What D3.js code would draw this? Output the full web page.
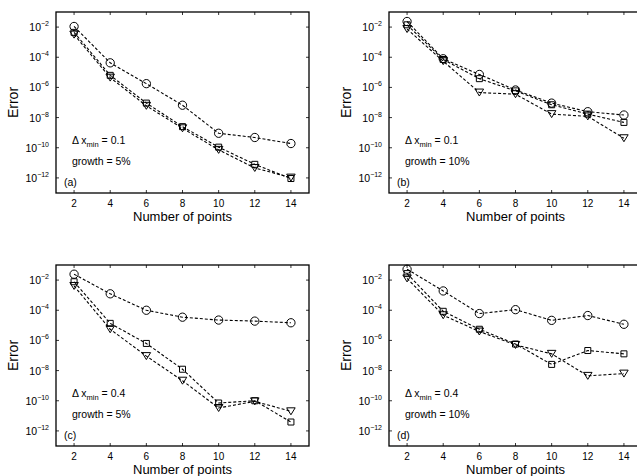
<!DOCTYPE html>
<html>
<head>
<meta charset="utf-8">
<script src="https://cdn.jsdelivr.net/npm/d3@7"></script>
<style>
  html, body { margin: 0; padding: 0; background: #fff; }
  svg { display: block; font-family: "Liberation Sans", Arial, Helvetica, sans-serif; }
</style>
</head>
<body>
<svg id="chart" width="637" height="476"></svg>
<script>
// ---- data (log10 of error) ----
const xPoints = [2, 4, 6, 8, 10, 12, 14];
const xTicks = [2, 4, 6, 8, 10, 12, 14];
const yTickExps = [-2, -4, -6, -8, -10, -12];
const panelLetters = ["(a)", "(b)", "(c)", "(d)"];
const dxMin = ["0.1", "0.1", "0.4", "0.4"];
const growth = ["5%", "10%", "5%", "10%"];

// panel (a)
const aCircle   = [-1.96, -4.37, -5.75, -7.18, -9.04, -9.32, -9.72];
const aSquare   = [-2.35, -5.20, -7.04, -8.60, -9.96, -11.10, -12.04];
const aTriangle = [-2.50, -5.35, -7.22, -8.71, -10.14, -11.34, -11.98];
// panel (b)
const bCircle   = [-1.63, -4.10, -5.14, -6.17, -7.04, -7.61, -7.83];
const bSquare   = [-1.85, -4.15, -5.42, -6.23, -7.15, -7.77, -8.32];
const bTriangle = [-2.13, -4.26, -6.34, -6.45, -7.77, -7.92, -9.37];
// panel (c)
const cCircle   = [-1.61, -2.91, -4.00, -4.46, -4.65, -4.72, -4.83];
const cSquare   = [-2.11, -4.87, -6.20, -7.91, -10.15, -10.00, -11.41];
const cTriangle = [-2.39, -5.26, -7.04, -8.67, -10.48, -10.04, -10.70];
// panel (d)
const dCircle   = [-1.28, -2.72, -4.22, -3.96, -4.67, -4.35, -4.93];
const dSquare   = [-1.57, -4.07, -5.26, -6.24, -7.59, -6.67, -6.89];
const dTriangle = [-1.89, -4.33, -5.41, -6.30, -6.89, -8.35, -8.20];

const panelSeries = [
  [aCircle, aSquare, aTriangle],
  [bCircle, bSquare, bTriangle],
  [cCircle, cSquare, cTriangle],
  [dCircle, dSquare, dTriangle]
];
const markerKinds = ["circle", "square", "triangle"];

// ---- layout ----
const svg = d3.select("#chart");
const W = 253, H = 181;
const origins = [[56, 12], [389, 12], [56, 265], [389, 265]];

const x = d3.scaleLinear().domain([1, 15]).range([0, W]);
const y = d3.scaleLog().domain([1e-13, 1e-1]).range([H, 0]);

const symCircle = d3.symbol().type(d3.symbolCircle).size(54);
const symSquare = d3.symbol().type(d3.symbolSquare).size(36);

function triPath(s) {
  const h = s * 0.82;
  return `M${-s / 2},${-h / 2}L${s / 2},${-h / 2}L0,${h / 2}Z`;
}

panelSeries.forEach((series, pi) => {
  const [ox, oy] = origins[pi];
  const g = svg.append("g").attr("transform", `translate(${ox},${oy})`);

  const clipId = "clip" + pi;
  g.append("clipPath").attr("id", clipId)
    .append("rect").attr("x", -6).attr("y", -6).attr("width", W + 12).attr("height", H + 12);

  // box
  g.append("rect").attr("x", 0).attr("y", 0).attr("width", W).attr("height", H)
    .attr("fill", "none").attr("stroke", "#000").attr("stroke-width", 1.3);

  // x ticks inward (bottom and top)
  const xt = g.append("g");
  xTicks.forEach(t => {
    xt.append("line").attr("x1", x(t)).attr("x2", x(t)).attr("y1", H).attr("y2", H - 3)
      .attr("stroke", "#000").attr("stroke-width", 0.8);
    xt.append("line").attr("x1", x(t)).attr("x2", x(t)).attr("y1", 0).attr("y2", 3)
      .attr("stroke", "#000").attr("stroke-width", 0.8);
    xt.append("text").attr("x", x(t)).attr("y", H + 13.5)
      .attr("text-anchor", "middle").attr("font-size", 10).text(t);
  });

  // y ticks inward (left and right) with 10^n labels
  const yt = g.append("g");
  yTickExps.forEach(e => {
    const yy = y(Math.pow(10, e));
    yt.append("line").attr("x1", 0).attr("x2", 3).attr("y1", yy).attr("y2", yy)
      .attr("stroke", "#000").attr("stroke-width", 0.8);
    yt.append("line").attr("x1", W).attr("x2", W - 3).attr("y1", yy).attr("y2", yy)
      .attr("stroke", "#000").attr("stroke-width", 0.8);
    const tx = yt.append("text").attr("x", -7).attr("y", yy + 4)
      .attr("text-anchor", "end").attr("font-size", 10.5);
    tx.append("tspan").text("10");
    tx.append("tspan").attr("dy", -5).attr("font-size", 7).text("\u2212" + Math.abs(e));
  });

  // axis titles
  g.append("text").attr("x", W / 2).attr("y", H + 28)
    .attr("text-anchor", "middle").attr("font-size", 13).text("Number of points");
  g.append("text").attr("transform", `translate(${-38},${H / 2}) rotate(-90)`)
    .attr("text-anchor", "middle").attr("font-size", 14).text("Error");

  // series
  const line = d3.line().x((d, i) => x(xPoints[i])).y(d => y(Math.pow(10, d)));
  const data = g.append("g").attr("clip-path", `url(#${clipId})`);
  series.forEach((vals) => {
    data.append("path").datum(vals).attr("d", line)
      .attr("fill", "none").attr("stroke", "#000").attr("stroke-width", 1.1)
      .attr("stroke-dasharray", "3,2");
  });
  series.forEach((vals, si) => {
    const kind = markerKinds[si];
    vals.forEach((v, i) => {
      const px = x(xPoints[i]), py = y(Math.pow(10, v));
      let d;
      if (kind === "circle") d = symCircle();
      else if (kind === "square") d = symSquare();
      else d = triPath(8.5);
      data.append("path").attr("d", d).attr("transform", `translate(${px},${py})`)
        .attr("fill", "none").attr("stroke", "#000").attr("stroke-width", 1);
    });
  });

  // annotations
  const ann = g.append("g").attr("font-size", 10.5);
  const t1 = ann.append("text").attr("x", 16).attr("y", 132);
  t1.append("tspan").text("\u0394 x");
  t1.append("tspan").attr("dy", 3).attr("font-size", 7.5).text("min");
  t1.append("tspan").attr("dy", -3).text(" = " + dxMin[pi]);
  ann.append("text").attr("x", 16).attr("y", 153).text("growth = " + growth[pi]);
  ann.append("text").attr("x", 8).attr("y", 174).text(panelLetters[pi]);
});
</script>
</body>
</html>
